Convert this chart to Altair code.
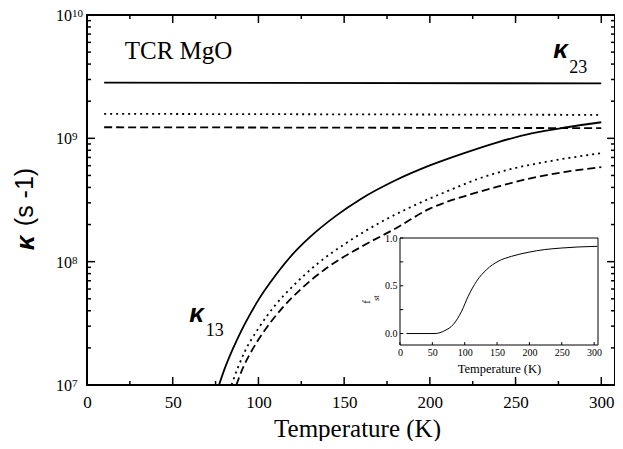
import altair as alt
import pandas as pd

# ---------------- data ----------------
# kappa_13 curves (rising)
T_solid = [77.0, 80, 85, 90, 95, 100, 110, 120, 130, 145, 160, 180, 200, 220, 240, 260, 280, 300]
k_solid = [1.0e7, 1.32e7, 1.95e7, 2.75e7, 3.72e7, 4.90e7, 7.76e7, 1.15e8, 1.58e8, 2.34e8, 3.24e8,
           4.57e8, 6.03e8, 7.59e8, 9.33e8, 1.10e9, 1.23e9, 1.35e9]
T_dot = [84.3, 88, 92, 100, 110, 120, 135, 150, 170, 190, 210, 230, 250, 270, 300]
k_dot = [1.0e7, 1.38e7, 1.86e7, 2.88e7, 4.47e7, 6.31e7, 9.77e7, 1.38e8, 2.04e8, 2.82e8, 3.72e8,
         4.79e8, 5.75e8, 6.53e8, 7.59e8]
T_dash = [87.1, 91, 95, 103, 113, 125, 140, 160, 180, 200, 220, 240, 260, 280, 300]
k_dash = [1.0e7, 1.38e7, 1.78e7, 2.69e7, 4.07e7, 6.03e7, 8.91e7, 1.32e8, 1.86e8, 2.69e8, 3.39e8,
          4.07e8, 4.79e8, 5.37e8, 5.85e8]

# kappa_23 (nearly flat)
T_flat = [10.0, 300.0]
k23_solid = [2.83e9, 2.79e9]
k23_dot = [1.58e9, 1.55e9]
k23_dash = [1.23e9, 1.21e9]

# inset f_st(T)
T_inset = [10, 54, 69.4, 82.3, 95.2, 105.4, 118.3, 133.8, 151.7, 172.3, 198, 223.8, 249.5, 275.2, 305]
f_inset = [0, 0, 0.031, 0.094, 0.233, 0.390, 0.547, 0.669, 0.756, 0.808, 0.850, 0.879, 0.895, 0.906, 0.913]

x_major = [0, 50, 100, 150, 200, 250, 300]
x_minor = [25, 75, 125, 175, 225, 275]
y_major = [1e7, 1e8, 1e9, 1e10]
y_exp = ["7", "8", "9", "10"]
y_minor = [m * 10 ** d for d in (7, 8, 9) for m in range(2, 10)]
inset_x_labels = [0, 50, 100, 150, 200, 250, 300]
inset_y_labels = [0.0, 0.5, 1.0]
inset_y_ticks = [0.0, 0.25, 0.5, 0.75, 1.0]

# ---------------- layout ----------------
W, H = 528, 370
SERIF = "Liberation Serif"
SANS = "Liberation Sans"

xs = alt.Scale(domain=[0, 308], nice=False, zero=False)
ys = alt.Scale(type="log", domain=[1e7, 1e10], nice=False)

x_axis = alt.Axis(values=x_major, labelFont=SERIF, labelFontSize=17, labelColor="black",
                  ticks=False, domain=False, grid=False, labelPadding=9, labelFlush=False,
                  title="Temperature (K)", titleFont=SERIF, titleFontSize=25,
                  titleFontWeight="normal", titleColor="black", titleX=270, titleY=51,
                  titleBaseline="alphabetic", titleAlign="center")
X = alt.X("T:Q", scale=xs, axis=x_axis)
Y = alt.Y("k:Q", scale=ys, axis=None)


def line(T, k, dash, width=1.8):
    df = pd.DataFrame({"T": T, "k": k})
    kw = dict(color="black", strokeWidth=width, clip=True, interpolate="monotone")
    if dash:
        kw["strokeDash"] = dash
    return alt.Chart(df).mark_line(**kw).encode(x=X, y=Y)


lines = [
    line(T_flat, k23_solid, None),
    line(T_flat, k23_dot, [2, 4]),
    line(T_flat, k23_dash, [8, 4]),
    line(T_solid, k_solid, None),
    line(T_dot, k_dot, [2, 4]),
    line(T_dash, k_dash, [8, 4]),
]


# inner ticks of the main frame
def yticks(vals, length):
    df = pd.DataFrame({"k": vals})
    left = alt.Chart(df).mark_rule(color="black", strokeWidth=1.5).encode(
        y=Y, x=alt.value(0), x2=alt.value(length))
    right = alt.Chart(df).mark_rule(color="black", strokeWidth=1.5).encode(
        y=Y, x=alt.value(W), x2=alt.value(W - length))
    return [left, right]


def xticks(vals, length):
    df = pd.DataFrame({"T": vals})
    bottom = alt.Chart(df).mark_rule(color="black", strokeWidth=1.5).encode(
        x=X, y=alt.value(H), y2=alt.value(H - length))
    top = alt.Chart(df).mark_rule(color="black", strokeWidth=1.5).encode(
        x=X, y=alt.value(0), y2=alt.value(length))
    return [bottom, top]


ticks = yticks(y_major, 8) + yticks(y_minor, 4) + xticks(x_major, 8) + xticks(x_minor, 4)

# y tick labels 10^n
ylab_df = pd.DataFrame({"k": y_major, "exp": y_exp, "base": ["10"] * 4})
ylab_base = alt.Chart(ylab_df).mark_text(font=SERIF, fontSize=16, align="left",
                                         baseline="alphabetic", dy=6, color="black").encode(
    y=Y, x=alt.value(-31), text="base:N")
ylab_exp = alt.Chart(ylab_df).mark_text(font=SERIF, fontSize=11, align="left",
                                        baseline="alphabetic", dy=2, color="black").encode(
    y=Y, x=alt.value(-15), text="exp:N")


def note(T, k, txt, font, size, weight="normal", style="normal"):
    df = pd.DataFrame({"T": [T], "k": [k], "t": [txt]})
    return alt.Chart(df).mark_text(font=font, fontSize=size, fontWeight=weight, fontStyle=style,
                                   align="left", baseline="alphabetic", color="black").encode(
        x=X, y=Y, text="t:N")


notes = [
    note(22, 4.4e9, "TCR MgO", SERIF, 25),
    note(272.0, 4.49e9, "κ", SANS, 26, "bold", "italic"),
    note(281.3, 3.39e9, "23", SERIF, 18),
    note(59.6, 3.23e7, "κ", SANS, 26, "bold", "italic"),
    note(69.3, 2.48e7, "13", SERIF, 18),
]

# y-axis title built from two pieces
ytitle_df = pd.DataFrame({"a": [0]})
ytitle_k = alt.Chart(ytitle_df).mark_text(font=SANS, fontSize=26, fontWeight="bold", fontStyle="italic",
                                          angle=270, align="center", baseline="middle", color="black").encode(
    x=alt.value(-61), y=alt.value(228), text=alt.value("κ"))
ytitle_u = alt.Chart(ytitle_df).mark_text(font=SANS, fontSize=25, angle=270, align="center",
                                          baseline="middle", color="black").encode(
    x=alt.value(-62), y=alt.value(182), text=alt.value("(s -1)"))

main = alt.layer(*lines, *ticks, ylab_base, ylab_exp, *notes, ytitle_k, ytitle_u)

# ---------------- inset ----------------
xsi = alt.Scale(domain=[0, 306], range=[313, 511], nice=False, zero=False)
ysi = alt.Scale(domain=[-0.12, 1.0], range=[330, 223], nice=False, zero=False)
xi_axis = alt.Axis(orient="bottom", offset=-40, values=inset_x_labels, labelFont=SERIF, labelFontSize=10,
                   labelColor="black", ticks=False, domain=False, grid=False, labelPadding=2,
                   labelFlush=False, title="Temperature (K)", titleFont=SERIF, titleFontSize=12.5,
                   titleFontWeight="normal", titleColor="black", titleX=412, titleY=27,
                   titleBaseline="alphabetic", titleAlign="center")
yi_axis = alt.Axis(orient="left", offset=-313, values=inset_y_labels, format=".1f", labelFont=SERIF,
                   labelFontSize=10, labelColor="black", ticks=False, domain=False, grid=False,
                   labelPadding=3, title=None)
XI = alt.X("T:Q", scale=xsi, axis=xi_axis)
YI = alt.Y("f:Q", scale=ysi, axis=yi_axis)

frame_df = pd.DataFrame({"T": [xsi.domain[0]], "T2": [xsi.domain[1]],
                         "f": [ysi.domain[0]], "f2": [ysi.domain[1]]})
inset_frame = alt.Chart(frame_df).mark_rect(fill="white", stroke="black", strokeWidth=1).encode(
    x=XI, x2="T2:Q", y=YI, y2="f2:Q")
inset_line = alt.Chart(pd.DataFrame({"T": T_inset, "f": f_inset})).mark_line(
    color="black", strokeWidth=1, interpolate="monotone").encode(x=XI, y=YI)
iy_df = pd.DataFrame({"f": inset_y_ticks, "T": [0] * 5, "T2": [5] * 5})
inset_yticks = alt.Chart(iy_df).mark_rule(color="black", strokeWidth=1).encode(
    y=YI, x=XI, x2="T2:Q")
ix_df = pd.DataFrame({"T": inset_x_labels, "f": [-0.12] * 7, "f2": [-0.09] * 7})
inset_xticks = alt.Chart(ix_df).mark_rule(color="black", strokeWidth=1).encode(
    x=XI, y=YI, y2="f2:Q")
fst_df = pd.DataFrame({"T": [-51, -36], "f": [0.33, 0.37], "t": ["f", "st"], "s": [11, 8]})
fst = alt.Chart(fst_df).mark_text(font=SERIF, angle=270, align="center", baseline="middle",
                                   color="black").encode(
    x=XI, y=YI, text="t:N", size=alt.Size("s:Q", scale=None, legend=None))

inset = alt.layer(inset_frame, inset_line, inset_yticks, inset_xticks, fst)

chart = alt.layer(main, inset).resolve_scale(x="independent", y="independent").properties(
    width=W, height=H,
    autosize=alt.AutoSizeParams(type="none"),
    padding={"left": 79, "top": 7, "right": 0, "bottom": 56},
    background="white",
).configure_view(stroke="black", strokeWidth=2)

chart.save("out.html", embed_options={"renderer": "svg", "actions": False})
